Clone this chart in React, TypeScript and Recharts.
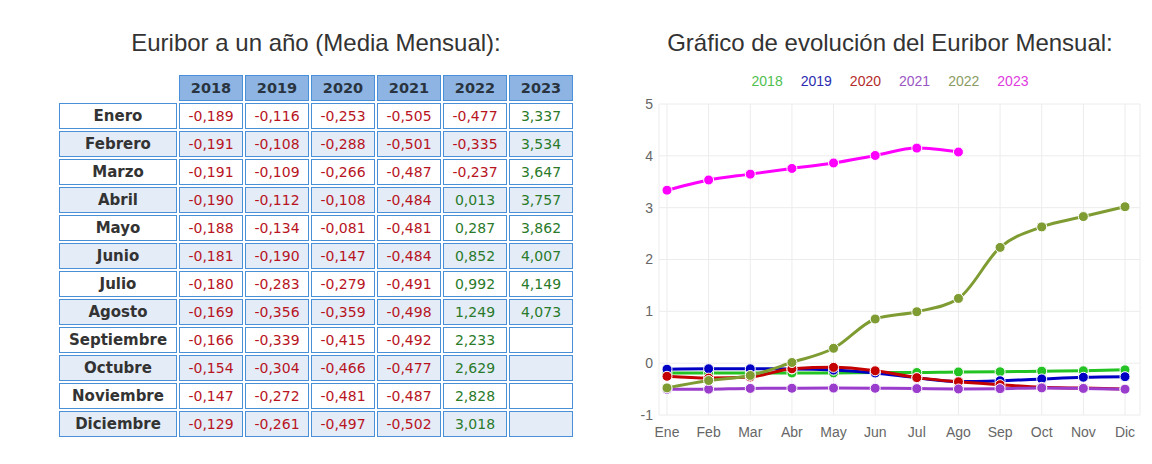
import React from 'react';
import { LineChart, Line, XAxis, YAxis, CartesianGrid, Legend } from 'recharts';

const monthsLong = ['Enero', 'Febrero', 'Marzo', 'Abril', 'Mayo', 'Junio', 'Julio', 'Agosto', 'Septiembre', 'Octubre', 'Noviembre', 'Diciembre'];
const monthsShort = ['Ene', 'Feb', 'Mar', 'Abr', 'May', 'Jun', 'Jul', 'Ago', 'Sep', 'Oct', 'Nov', 'Dic'];
const years = ['2018', '2019', '2020', '2021', '2022', '2023'];

const v2018 = [-0.189, -0.191, -0.191, -0.19, -0.188, -0.181, -0.18, -0.169, -0.166, -0.154, -0.147, -0.129];
const v2019 = [-0.116, -0.108, -0.109, -0.112, -0.134, -0.19, -0.283, -0.356, -0.339, -0.304, -0.272, -0.261];
const v2020 = [-0.253, -0.288, -0.266, -0.108, -0.081, -0.147, -0.279, -0.359, -0.415, -0.466, -0.481, -0.497];
const v2021 = [-0.505, -0.501, -0.487, -0.484, -0.481, -0.484, -0.491, -0.498, -0.492, -0.477, -0.487, -0.502];
const v2022 = [-0.477, -0.335, -0.237, 0.013, 0.287, 0.852, 0.992, 1.249, 2.233, 2.629, 2.828, 3.018];
const v2023 = [3.337, 3.534, 3.647, 3.757, 3.862, 4.007, 4.149, 4.073];

const yTicks = [-1, 0, 1, 2, 3, 4, 5];

const seriesValues = [v2018, v2019, v2020, v2021, v2022, v2023];
const lineColors = ['#22c322', '#0000c4', '#c40000', '#9a3ccc', '#7f9c33', '#ff00ff'];
const legendColors = ['#4fbf4f', '#2b2bb0', '#b52a2a', '#9a55c4', '#8a9c63', '#e03ae0'];

const chartData = monthsShort.map((m, i) => {
  const row: Record<string, any> = { mes: m };
  years.forEach((y, k) => {
    const v = seriesValues[k][i];
    if (v !== undefined) row['y' + y] = v;
  });
  return row;
});

const fmt = (v: number) => v.toFixed(3).replace('.', ',');

const border = '1px solid #4a90d9';
const cellBase: React.CSSProperties = {
  boxSizing: 'border-box',
  border,
  height: 26,
  lineHeight: '24px',
  textAlign: 'center',
  fontFamily: '"DejaVu Sans", Verdana, sans-serif',
  fontSize: 14,
};

function EuriborTable() {
  const cols = '118px 64px 64px 64px 64px 64px 64px';
  const cells: React.ReactNode[] = [];
  cells.push(<div key="corner" />);
  years.forEach((y) => {
    cells.push(
      <div key={'h' + y} style={{ ...cellBase, background: '#8db4e2', color: '#2a3440', fontWeight: 'bold', fontSize: 14.5 }}>
        {y}
      </div>
    );
  });
  monthsLong.forEach((m, i) => {
    const bg = i % 2 === 0 ? '#ffffff' : '#e4ecf8';
    cells.push(
      <div key={'m' + i} style={{ ...cellBase, background: bg, color: '#333333', fontWeight: 'bold', fontSize: 15 }}>
        {m}
      </div>
    );
    seriesValues.forEach((vals, k) => {
      const v = vals[i];
      cells.push(
        <div key={'c' + i + '-' + k} style={{ ...cellBase, background: bg, color: v !== undefined && v >= 0 ? '#2a7a2a' : '#b8141e' }}>
          {v !== undefined ? fmt(v) : ''}
        </div>
      );
    });
  });
  return (
    <div style={{ position: 'absolute', left: 59, top: 75, display: 'grid', gridTemplateColumns: cols, gridAutoRows: '26px', gap: 2 }}>
      {cells}
    </div>
  );
}

function LegendContent() {
  return (
    <div style={{ display: 'flex', justifyContent: 'center', gap: 18, fontFamily: '"Liberation Sans", Arial, sans-serif', fontSize: 14, paddingLeft: 28 }}>
      {years.map((y, k) => (
        <span key={y} style={{ color: legendColors[k] }}>{y}</span>
      ))}
    </div>
  );
}

export default function App() {
  const titleStyle: React.CSSProperties = {
    position: 'absolute',
    top: 29,
    fontFamily: '"Liberation Sans", Arial, sans-serif',
    fontSize: 24,
    color: '#333333',
    textAlign: 'center',
    whiteSpace: 'nowrap',
  };
  return (
    <div style={{ position: 'absolute', left: 0, top: 0, width: 1152, height: 464, background: '#ffffff' }}>
      <div style={{ ...titleStyle, left: 16, width: 600 }}>Euribor a un año (Media Mensual):</div>
      <div style={{ ...titleStyle, left: 590, width: 600 }}>Gráfico de evolución del Euribor Mensual:</div>
      <EuriborTable />
      <div style={{ position: 'absolute', left: 600, top: 60, width: 552, height: 404 }}>
        <LineChart width={552} height={404} data={chartData} margin={{ top: 44, right: 12, bottom: 19, left: 0 }}>
          <CartesianGrid stroke="#ececec" strokeWidth={1} />
          <XAxis
            dataKey="mes"
            padding={{ left: 8, right: 15 }}
            axisLine={false}
            tickLine={false}
            tickSize={0}
            tickMargin={12}
            interval={0}
            height={30}
            tick={{ fill: '#666666', fontSize: 14, fontFamily: '"Liberation Sans", Arial, sans-serif' }}
          />
          <YAxis
            domain={[-1, 5]}
            ticks={yTicks}
            axisLine={false}
            tickLine={false}
            tickSize={0}
            tickMargin={6}
            width={59}
            tick={{ fill: '#666666', fontSize: 14, fontFamily: '"Liberation Sans", Arial, sans-serif' }}
          />
          <Legend verticalAlign="middle" align="center" wrapperStyle={{ top: 13, left: 0, width: 552 }} content={() => <LegendContent />} />
          {years.map((y, k) => (
            <Line
              key={y}
              type="monotone"
              dataKey={'y' + y}
              stroke={lineColors[k]}
              strokeWidth={3}
              dot={{ r: 5, fill: lineColors[k], stroke: '#ffffff', strokeWidth: 1 }}
              activeDot={false}
              isAnimationActive={false}
            />
          ))}
        </LineChart>
      </div>
    </div>
  );
}
